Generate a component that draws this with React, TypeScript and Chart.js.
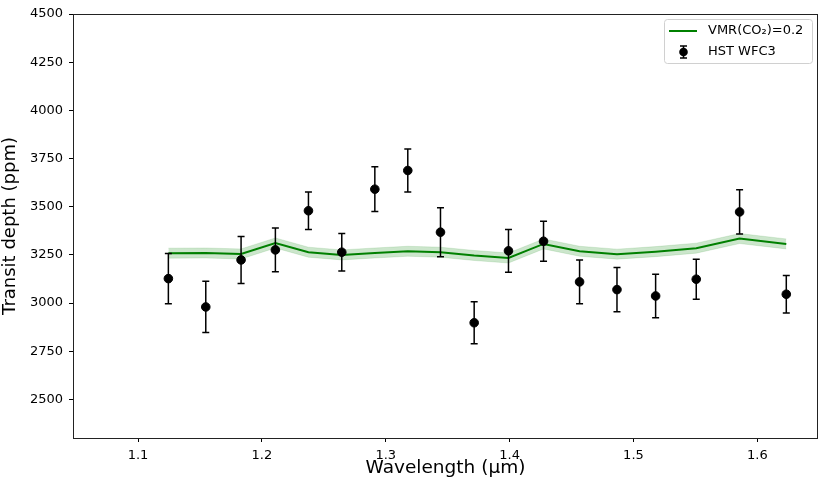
import React, { useEffect, useRef } from "react";
import { Chart, registerables } from "chart.js";

Chart.register(...registerables);

// HST WFC3 transit spectrum
const wavelengths = [1.1245, 1.1547, 1.1832, 1.2109, 1.2376, 1.2645, 1.2912, 1.3178, 1.3442, 1.3714, 1.3991, 1.4274, 1.4565, 1.4867, 1.5179, 1.5507, 1.5857, 1.6234];
const depth = [3127, 2980, 3224, 3276, 3479, 3264, 3591, 3688, 3368, 2898, 3271, 3321, 3110, 3070, 3037, 3124, 3473, 3046];
const depthErr = [130, 133, 122, 113, 97, 97, 116, 112, 127, 109, 111, 104, 113, 115, 113, 104, 115, 97];

// model VMR(CO2)=0.2 and its band half-width
const modelDepth = [3259, 3260, 3255, 3312, 3264, 3250, 3260, 3269, 3264, 3247, 3234, 3307, 3269, 3254, 3267, 3285, 3335, 3307];
const modelSpread = [26, 26, 26, 26, 26, 26, 26, 26, 26, 26, 26, 26, 26, 26, 26, 26, 26, 26];

const xTicks = [1.1, 1.2, 1.3, 1.4, 1.5, 1.6];
const yTicks = [2500, 2750, 3000, 3250, 3500, 3750, 4000, 4250, 4500];

const seriesLabels = ["HST WFC3", "VMR(CO\u2082)=0.2"];

const FONT = "'DejaVu Sans', sans-serif";

// error bars drawn right after the model line, so markers sit on top
const errorBars = {
  id: "errorBars",
  afterDatasetDraw(chart, args) {
    if (args.index !== 1) return;
    const { ctx, scales } = chart;
    ctx.save();
    ctx.strokeStyle = "#000";
    ctx.lineWidth = 1.5;
    wavelengths.forEach((w, i) => {
      const x = scales.x.getPixelForValue(w);
      const yTop = scales.y.getPixelForValue(depth[i] + depthErr[i]);
      const yBot = scales.y.getPixelForValue(depth[i] - depthErr[i]);
      ctx.beginPath();
      ctx.moveTo(x, yTop);
      ctx.lineTo(x, yBot);
      ctx.moveTo(x - 3.5, yTop);
      ctx.lineTo(x + 3.5, yTop);
      ctx.moveTo(x - 3.5, yBot);
      ctx.lineTo(x + 3.5, yBot);
      ctx.stroke();
    });
    ctx.restore();
  },
};

// full frame + matplotlib-like legend box
const frameAndLegend = {
  id: "frameAndLegend",
  afterDraw(chart) {
    const { ctx, chartArea: a } = chart;
    ctx.save();
    ctx.strokeStyle = "#222";
    ctx.lineWidth = 1;
    ctx.strokeRect(a.left + 0.5, a.top + 0.5, a.right - a.left - 1, a.bottom - a.top);

    const bx = 664, by = 19, bw = 148, bh = 44, r = 3;
    ctx.beginPath();
    ctx.roundRect(bx + 0.5, by + 0.5, bw, bh, r);
    ctx.fillStyle = "rgba(255,255,255,0.8)";
    ctx.fill();
    ctx.strokeStyle = "#d0d0d0";
    ctx.stroke();

    // model line handle
    ctx.strokeStyle = "#008000";
    ctx.lineWidth = 2;
    ctx.beginPath();
    ctx.moveTo(669, 31);
    ctx.lineTo(697, 31);
    ctx.stroke();

    // errorbar handle
    const hx = 683.5, hy = 52;
    ctx.strokeStyle = "#000";
    ctx.lineWidth = 1.5;
    ctx.beginPath();
    ctx.moveTo(hx, hy - 6);
    ctx.lineTo(hx, hy + 6);
    ctx.moveTo(hx - 3.5, hy - 6);
    ctx.lineTo(hx + 3.5, hy - 6);
    ctx.moveTo(hx - 3.5, hy + 6);
    ctx.lineTo(hx + 3.5, hy + 6);
    ctx.stroke();
    ctx.fillStyle = "#000";
    ctx.beginPath();
    ctx.arc(hx, hy, 4.3, 0, Math.PI * 2);
    ctx.fill();

    ctx.fillStyle = "#000";
    ctx.font = `13px ${FONT}`;
    ctx.textBaseline = "middle";
    ctx.textAlign = "left";
    ctx.fillText(seriesLabels[1], 708, 31);
    ctx.fillText(seriesLabels[0], 708, 52);
    ctx.restore();
  },
};

const App = () => {
  const chartRef = useRef(null);
  const chartInstance = useRef(null);

  useEffect(() => {
    const points = wavelengths.map((w, i) => ({ x: w, y: depth[i] }));
    const model = wavelengths.map((w, i) => ({ x: w, y: modelDepth[i] }));
    const upper = wavelengths.map((w, i) => ({ x: w, y: modelDepth[i] + modelSpread[i] }));
    const lower = wavelengths.map((w, i) => ({ x: w, y: modelDepth[i] - modelSpread[i] }));

    const config = {
      type: "scatter",
      data: {
        datasets: [
          {
            label: seriesLabels[0],
            data: points,
            backgroundColor: "#000",
            borderColor: "#000",
            pointRadius: 4.3,
            pointHoverRadius: 4.3,
            showLine: false,
          },
          {
            label: seriesLabels[1],
            data: model,
            borderColor: "#008000",
            borderWidth: 2,
            pointRadius: 0,
            showLine: true,
            fill: false,
          },
          {
            label: "band upper",
            data: upper,
            borderColor: "rgba(0,128,0,0.12)",
            borderWidth: 1,
            backgroundColor: "rgba(0,128,0,0.2)",
            pointRadius: 0,
            showLine: true,
            fill: "+1",
          },
          {
            label: "band lower",
            data: lower,
            borderColor: "rgba(0,128,0,0.12)",
            borderWidth: 1,
            pointRadius: 0,
            showLine: true,
            fill: false,
          },
        ],
      },
      options: {
        animation: false,
        responsive: true,
        maintainAspectRatio: false,
        layout: { padding: { left: 0, top: 14, right: 12, bottom: 0 } },
        plugins: {
          legend: { display: false },
          tooltip: { enabled: false },
        },
        scales: {
          x: {
            type: "linear",
            min: 1.0475,
            max: 1.649,
            afterBuildTicks: (scale) => {
              scale.ticks = xTicks.map((v) => ({ value: v }));
            },
            afterFit: (scale) => {
              scale.height = 53;
            },
            grid: { drawOnChartArea: false, color: "#000", tickLength: 4 },
            border: { display: false },
            ticks: {
              color: "#000",
              font: { family: FONT, size: 13 },
              padding: 6,
              maxRotation: 0,
              callback: (v) => Number(v).toFixed(1),
            },
            title: {
              display: true,
              text: "Wavelength (\u03bcm)",
              color: "#000",
              font: { family: FONT, size: 18.5 },
              padding: { top: 0, bottom: 12 },
            },
          },
          y: {
            min: 2300,
            max: 4500,
            afterBuildTicks: (scale) => {
              scale.ticks = yTicks.map((v) => ({ value: v }));
            },
            afterFit: (scale) => {
              scale.width = 73;
            },
            grid: { drawOnChartArea: false, color: "#000", tickLength: 4 },
            border: { display: false },
            ticks: {
              color: "#000",
              font: { family: FONT, size: 13 },
              padding: 6,
              callback: (v) => String(v),
            },
            title: {
              display: true,
              text: "Transit depth (ppm)",
              color: "#000",
              font: { family: FONT, size: 18 },
              padding: { top: 0, bottom: 0 },
            },
          },
        },
      },
      plugins: [errorBars, frameAndLegend],
    };

    if (chartInstance.current) {
      chartInstance.current.destroy();
    }
    if (chartRef.current) {
      chartInstance.current = new Chart(chartRef.current, config);
    }

    return () => {
      if (chartInstance.current) {
        chartInstance.current.destroy();
        chartInstance.current = null;
      }
    };
  }, []);

  return (
    <div style={{ position: "absolute", left: 0, top: 0, width: 830, height: 491, background: "#fff" }}>
      <canvas ref={chartRef}></canvas>
    </div>
  );
};

export default App;
